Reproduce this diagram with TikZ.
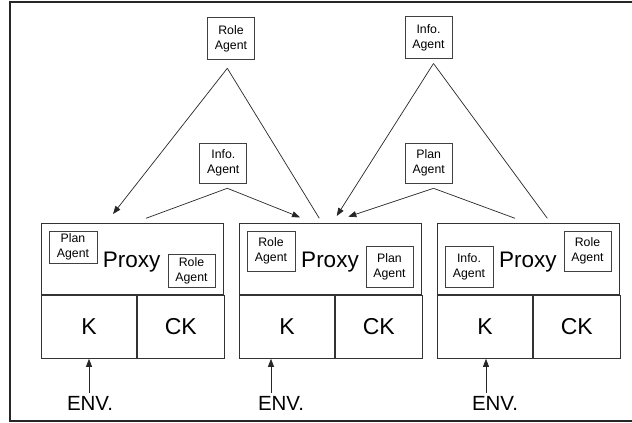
\documentclass[tikz,border=0pt]{standalone}
\usepackage{fontspec}
\setmainfont{Liberation Sans}
\usetikzlibrary{arrows.meta}

\begin{document}
\begin{tikzpicture}[x=1pt, y=-1pt, >={Triangle[length=8pt,width=6pt]},
  agent/.style={draw=black!75, line width=0.8pt, align=center, inner sep=0pt,
    font=\fontsize{12.3}{15}\selectfont, minimum width=47pt, minimum height=40pt},
  cell/.style={draw=black!80, line width=0.9pt, anchor=north west, inner sep=0pt,
    font=\fontsize{23}{26}\selectfont},
  bigtext/.style={anchor=base, inner sep=0pt, font=\fontsize{22.5}{26}\selectfont},
  link/.style={black!85, line width=0.7pt}]
\useasboundingbox (0,0) rectangle (632,423);
%%%%% Frame %%%%%
\draw[line width=2pt, black!85] (632,1.5)--(9.5,1.5)--(9.5,421)--(632,421);
%%%%% Agents on top %%%%%
\node[agent, minimum height=42pt] (roleTop) at (231,38.5) {Role\\Agent};
\node[agent, minimum height=42pt] (infoTop) at (428.5,37.5) {Info.\\Agent};
\node[agent] (infoMid) at (223.3,163.3) {Info.\\Agent};
\node[agent] (planMid) at (428.7,163.3) {Plan\\Agent};
\coordinate (roleApex) at (227.3,68.3);
\coordinate (infoApex) at (433.5,63.5);
\coordinate (infoMidApex) at (227.3,188.3);
\coordinate (planMidApex) at (433.5,188.3);
%%%%% Proxies %%%%%
\foreach \i/\x in {1/41, 2/239, 3/437}{
\node[cell, minimum width=182pt, minimum height=71.3pt] (proxy\i) at (\x,222.7) {};
\node[cell, minimum width=95pt, minimum height=63pt] (k\i) at (proxy\i.south west) {K};
\node[cell, minimum width=87pt, minimum height=63pt] (ck\i) at (k\i.north east) {CK};
}
\node[bigtext] (px1) at (131.7,267.3) {Proxy};
\node[bigtext] (px2) at (330,267.3) {Proxy};
\node[bigtext] (px3) at (527.8,267) {Proxy};
\node[agent, minimum width=48pt, minimum height=32pt] (plan1) at (73,247) {Plan\\Agent};
\node[agent, minimum height=33pt] (role1) at (191.5,270.5) {Role\\Agent};
\node[agent, minimum width=48pt] (role2) at (271,251) {Role\\Agent};
\node[agent, minimum height=41pt] (plan2) at (389.5,266.5) {Plan\\Agent};
\node[agent, minimum width=48pt, minimum height=41pt] (info3) at (469,267.3) {Info.\\Agent};
\node[agent] (role3) at (587.5,251.3) {Role\\Agent};
%%%%% Links %%%%%
\coordinate (in1) at (113,214);
\coordinate (in2a) at (300,217.3);
\coordinate (in2b) at (336.7,216);
\coordinate (in2c) at (348.3,216.7);
\draw[link,->] (roleApex)--(in1);
\draw[link] (roleApex)--(319.3,218.3);
\draw[link] (infoMidApex)--(146,218.3);
\draw[link,->] (infoMidApex)--(in2a);
\draw[link,->] (infoApex)--(in2b);
\draw[link] (infoApex)--(547.3,218.3);
\draw[link,->] (planMidApex)--(in2c);
\draw[link] (planMidApex)--(515,218.3);
%%%%% Environment %%%%%
\foreach \i/\x/\s in {1/90/-1, 2/281/-10, 3/495/-9}{
\node[bigtext, font=\fontsize{20.5}{24}\selectfont] (env\i) at (\x,410) {ENV.};
\draw[link,->] ([xshift=\s pt, yshift=3pt]env\i.north)--([xshift=\s pt]env\i.north |- k\i.south);
}
\end{tikzpicture}
\end{document}
